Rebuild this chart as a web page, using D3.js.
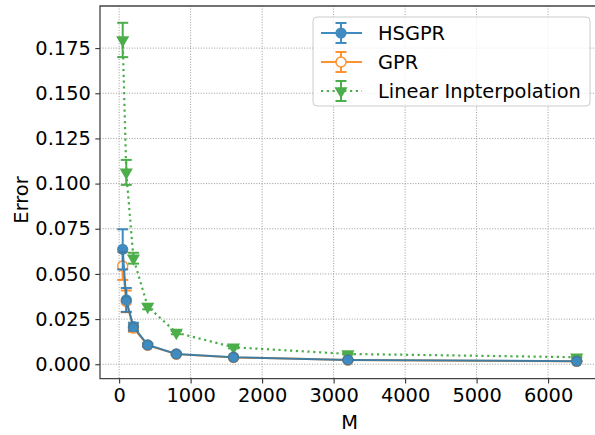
<!DOCTYPE html>
<html>
<head>
<meta charset="utf-8">
<script src="https://cdn.jsdelivr.net/npm/d3@7"></script>
<style>
  html, body { margin: 0; padding: 0; background: #fff; }
  svg { display: block; font-family: "DejaVu Sans", sans-serif; }
</style>
</head>
<body>
<svg id="chart" width="595" height="435"></svg>
<script>
// Number of inducing points / grid size
const M = [50, 100, 200, 400, 800, 1600, 3200, 6400];

// Mean error and error-bar half widths per method
const hsgprMean = [0.0636, 0.0356, 0.0208, 0.0107, 0.0057, 0.0039, 0.0024, 0.0017];
const hsgprErr  = [0.0111, 0.0066, 0.0022, 0.0009, 0.0005, 0.0003, 0.0002, 0.0002];
const gprMean   = [0.0544, 0.0348, 0.0200, 0.0105, 0.0056, 0.0038, 0.0023, 0.0016];
const gprErr    = [0.0077, 0.0060, 0.0020, 0.0009, 0.0005, 0.0003, 0.0002, 0.0002];
const linMean   = [0.1795, 0.1062, 0.0587, 0.0319, 0.0175, 0.0094, 0.0057, 0.0039];
const linErr    = [0.0095, 0.0069, 0.0030, 0.0015, 0.0009, 0.0006, 0.0004, 0.0003];

const xTicks = [0, 1000, 2000, 3000, 4000, 5000, 6000];
const yTicks = [0, 0.025, 0.05, 0.075, 0.1, 0.125, 0.15, 0.175];

const seriesNames = ["HSGPR", "GPR", "Linear Inpterpolation"];
const colors = ["#1f77b4", "#ff7f0e", "#2ca02c"];

const svg = d3.select("#chart");
const padL = 100, padT = 6, padB = 378.7, padR = 599.4;

const x = d3.scaleLinear().domain([-267.5, 6717.5]).range([padL, padR]);
const y = d3.scaleLinear().domain([-0.0080, 0.1983]).range([padB, padT]);

// grid
const grid = svg.append("g");
grid.selectAll(".gx").data(xTicks).join("line")
  .attr("x1", d => x(d)).attr("x2", d => x(d))
  .attr("y1", padT).attr("y2", padB)
  .attr("stroke", "#999").attr("stroke-width", 1)
  .attr("stroke-dasharray", "1,1.65");
grid.selectAll(".gy").data(yTicks).join("line")
  .attr("y1", d => y(d)).attr("y2", d => y(d))
  .attr("x1", padL).attr("x2", padR)
  .attr("stroke", "#999").attr("stroke-width", 1)
  .attr("stroke-dasharray", "1,1.65");

// axes
const fontSize = "19.4px";
const xAxis = svg.append("g").attr("transform", `translate(0,${padB})`)
  .call(d3.axisBottom(x).tickValues(xTicks).tickFormat(d3.format("d")).tickSize(4.7).tickPadding(4.5));
const yAxis = svg.append("g").attr("transform", `translate(${padL},0)`)
  .call(d3.axisLeft(y).tickValues(yTicks).tickFormat(d3.format(".3f")).tickSize(4.7).tickPadding(4.5));
[xAxis, yAxis].forEach(a => {
  a.select(".domain").remove();
  a.selectAll(".tick line").attr("stroke", "#333").attr("stroke-width", 1.1);
  a.selectAll(".tick text").attr("fill", "#000").style("font-size", fontSize)
    .style("font-family", "DejaVu Sans, sans-serif");
});
// spines (right edge runs off the canvas)
svg.append("path")
  .attr("d", `M${padR},${padT}H${padL}V${padB}H${padR}`)
  .attr("fill", "none").attr("stroke", "#444").attr("stroke-width", 1.3);

svg.append("text").attr("x", (padL + padR) / 2).attr("y", 428.5)
  .attr("text-anchor", "middle").style("font-size", fontSize).attr("fill", "#000").text("M");
svg.append("text")
  .attr("transform", `translate(28,200) rotate(-90)`)
  .attr("text-anchor", "middle").style("font-size", fontSize).attr("fill", "#000").text("Error");

const plot = svg.append("g");

function drawErrorBars(g, mean, err, color) {
  const cap = 5.5;
  M.forEach((m, i) => {
    const cx = x(m), y1 = y(mean[i] + err[i]), y0 = y(mean[i] - err[i]);
    g.append("line").attr("x1", cx).attr("x2", cx).attr("y1", y1).attr("y2", y0)
      .attr("stroke", color).attr("stroke-width", 2);
    [y1, y0].forEach(yy => g.append("line")
      .attr("x1", cx - cap).attr("x2", cx + cap).attr("y1", yy).attr("y2", yy)
      .attr("stroke", color).attr("stroke-width", 2));
  });
}

const line = d3.line().x(d => x(d[0])).y(d => y(d[1]));
const tri = d3.symbol().type(d3.symbolTriangle).size(75);

// Linear interpolation (green, dotted, down triangles)
{
  const g = plot.append("g").attr("opacity", 0.85);
  drawErrorBars(g, linMean, linErr, colors[2]);
  g.append("path").datum(M.map((m, i) => [m, linMean[i]])).attr("d", line)
    .attr("fill", "none").attr("stroke", colors[2]).attr("stroke-width", 2.2)
    .attr("stroke-dasharray", "2.2,3.6");
  g.selectAll("path.m").data(M).join("path").attr("class", "m")
    .attr("d", tri)
    .attr("transform", (d, i) => `translate(${x(d)},${y(linMean[i])}) rotate(180)`)
    .attr("fill", colors[2]);
}

// GPR (orange, open circles)
{
  const g = plot.append("g").attr("opacity", 0.85);
  drawErrorBars(g, gprMean, gprErr, colors[1]);
  g.append("path").datum(M.map((m, i) => [m, gprMean[i]])).attr("d", line)
    .attr("fill", "none").attr("stroke", colors[1]).attr("stroke-width", 2);
  g.selectAll("circle").data(M).join("circle")
    .attr("cx", d => x(d)).attr("cy", (d, i) => y(gprMean[i])).attr("r", 5)
    .attr("fill", "#fff").attr("stroke", colors[1]).attr("stroke-width", 1.5);
}

// HSGPR (blue, filled circles)
{
  const g = plot.append("g").attr("opacity", 0.85);
  drawErrorBars(g, hsgprMean, hsgprErr, colors[0]);
  g.append("path").datum(M.map((m, i) => [m, hsgprMean[i]])).attr("d", line)
    .attr("fill", "none").attr("stroke", colors[0]).attr("stroke-width", 2);
  g.selectAll("circle").data(M).join("circle")
    .attr("cx", d => x(d)).attr("cy", (d, i) => y(hsgprMean[i])).attr("r", 5.6)
    .attr("fill", colors[0]);
}

// legend
const lg = svg.append("g");
lg.append("rect").attr("x", 313).attr("y", 17).attr("width", 277).attr("height", 89)
  .attr("rx", 4).attr("fill", "#fff").attr("fill-opacity", 0.8)
  .attr("stroke", "#cccccc").attr("stroke-width", 1);
const rows = [33, 62, 91];
seriesNames.forEach((name, i) => {
  const g = lg.append("g").attr("opacity", 0.85);
  const cy = rows[i], c = colors[i];
  g.append("line").attr("x1", 321).attr("x2", 362).attr("y1", cy).attr("y2", cy)
    .attr("stroke", c).attr("stroke-width", i === 2 ? 2.2 : 2)
    .attr("stroke-dasharray", i === 2 ? "2.2,3.6" : null);
  g.append("line").attr("x1", 341).attr("x2", 341).attr("y1", cy - 10).attr("y2", cy + 10)
    .attr("stroke", c).attr("stroke-width", 2);
  [cy - 10, cy + 10].forEach(yy => g.append("line")
    .attr("x1", 335.5).attr("x2", 346.5).attr("y1", yy).attr("y2", yy)
    .attr("stroke", c).attr("stroke-width", 2));
  if (i === 0) g.append("circle").attr("cx", 341).attr("cy", cy).attr("r", 5.6).attr("fill", c);
  if (i === 1) g.append("circle").attr("cx", 341).attr("cy", cy).attr("r", 5)
    .attr("fill", "#fff").attr("stroke", c).attr("stroke-width", 1.5);
  if (i === 2) g.append("path").attr("d", tri)
    .attr("transform", `translate(341,${cy}) rotate(180)`).attr("fill", c);
  lg.append("text").attr("x", 378).attr("y", cy + 7).style("font-size", fontSize)
    .attr("fill", "#000").text(name);
});
</script>
</body>
</html>
